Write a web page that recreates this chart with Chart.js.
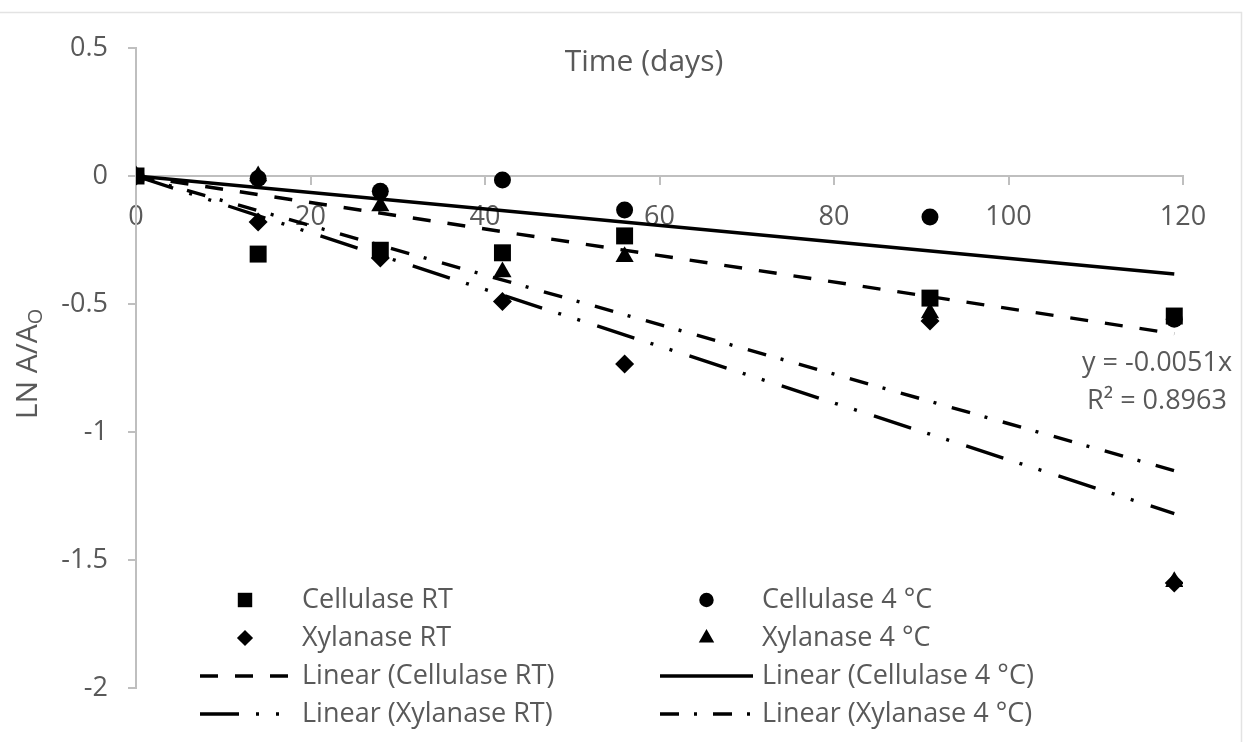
<!DOCTYPE html>
<html>
<head>
<meta charset="utf-8">
<script src="https://cdn.jsdelivr.net/npm/chart.js@4.4.1/dist/chart.umd.min.js"></script>
<style>
  html, body { margin: 0; padding: 0; background: #fff; }
  #wrap { width: 1245px; height: 742px; }
</style>
</head>
<body>
<div id="wrap"><canvas id="grafica" width="1245" height="742"></canvas></div>
<script>
// datos
var dias = [0, 14, 28, 42, 56, 91, 119];
var celulasaRT = [0, -0.305, -0.29, -0.30, -0.234, -0.477, -0.547];
var celulasa4C = [0, -0.01, -0.06, -0.016, -0.133, -0.16, -0.56];
var xilanasaRT = [0, -0.18, -0.32, -0.49, -0.734, -0.566, -1.59];
var xilanasa4C = [0, 0, -0.117, -0.375, -0.315, -0.535, -1.585];

var nombres = ["Cellulase RT", "Cellulase 4 °C", "Xylanase RT", "Xylanase 4 °C"];
var yTicks = [-2, -1.5, -1, -0.5, 0, 0.5];
var yTickLabels = ["-2", "-1.5", "-1", "-0.5", "0", "0.5"];
var xTicks = [0, 20, 40, 60, 80, 100, 120];
var xTickLabels = ["0", "20", "40", "60", "80", "100", "120"];
var tituloX = "Time (days)";
var ecuacion = ["y = -0.0051x", "R\u00B2 = 0.8963"];

var gris = "#595959";
var grisEje = "#bfbfbf";
var fuente = '"Open Sans", sans-serif';

function puntos(valores){
    var arr = [];
    for (var i = 0; i < dias.length; i++) {
        arr.push({x: dias[i], y: valores[i]});
    }
    return arr;
}

// tendencia lineal con intercepto en 0 (como en Excel)
function tendencia(valores){
    var sxy = 0, sxx = 0;
    for (var i = 0; i < dias.length; i++) {
        sxy += dias[i] * valores[i];
        sxx += dias[i] * dias[i];
    }
    var m = sxy / sxx;
    var xmax = dias[dias.length - 1];
    return [{x: 0, y: 0}, {x: xmax, y: m * xmax}];
}

var series = [celulasaRT, celulasa4C, xilanasaRT, xilanasa4C];
var estilos = ["rect", "circle", "rectRot", "triangle"];
var radios = [12, 8.5, 9.5, 10.5];
var guiones = [[18, 17], [], [39, 17, 3, 17, 3, 18], [19, 15, 3, 16]];

var datasets = [];
for (var i = 0; i < 4; i++) {
    datasets.push({
        label: nombres[i],
        data: puntos(series[i]),
        showLine: false,
        pointStyle: estilos[i],
        pointRadius: radios[i],
        pointBackgroundColor: "#000",
        pointBorderWidth: 0,
        backgroundColor: "#000",
        borderColor: "#000"
    });
}
for (var j = 0; j < 4; j++) {
    datasets.push({
        type: "line",
        label: "Linear (" + nombres[j] + ")",
        data: tendencia(series[j]),
        borderColor: "#000",
        borderWidth: 3.4,
        borderDash: guiones[j],
        pointRadius: 0,
        fill: false
    });
}

// leyenda, titulos y ecuacion dibujados a mano
var extras = {
    id: "extras",
    afterDraw: function(chart){
        var ctx = chart.ctx;
        ctx.save();

        // marco tenue de la figura original
        ctx.strokeStyle = "#e3e3e3";
        ctx.lineWidth = 1.5;
        ctx.beginPath();
        ctx.moveTo(0, 12.5); ctx.lineTo(1241.5, 12.5); ctx.lineTo(1241.5, 742);
        ctx.stroke();

        ctx.fillStyle = gris;
        ctx.textBaseline = "middle";
        ctx.textAlign = "center";
        ctx.font = "30px " + fuente;
        ctx.fillText(tituloX, 644, 62);

        ctx.font = "27px " + fuente;
        ctx.fillText(ecuacion[0], 1157, 363);
        ctx.fillText(ecuacion[1], 1157, 401);

        // titulo eje y con subindice
        ctx.save();
        ctx.translate(28, 364);
        ctx.rotate(-Math.PI / 2);
        ctx.font = "30px " + fuente;
        var t1 = "LN A/A";
        var w1 = ctx.measureText(t1).width;
        ctx.font = "20px " + fuente;
        var w2 = ctx.measureText("O").width;
        var x0 = -(w1 + w2) / 2;
        ctx.textAlign = "left";
        ctx.font = "30px " + fuente;
        ctx.fillText(t1, x0, 0);
        ctx.font = "20px " + fuente;
        ctx.fillText("O", x0 + w1, 8);
        ctx.restore();

        // leyenda en dos columnas
        var filas = [600, 638, 676, 714];
        var cols = [{l1: 200, l2: 290, tx: 302}, {l1: 660, l2: 753, tx: 762}];
        var ds = chart.data.datasets;
        ctx.font = "27px " + fuente;
        ctx.textAlign = "left";
        for (var k = 0; k < ds.length; k++) {
            var c = cols[k % 2];
            var y = filas[Math.floor(k / 2)];
            var cx = (c.l1 + c.l2) / 2;
            if (ds[k].showLine === false) {
                ctx.fillStyle = "#000";
                Chart.helpers.drawPoint(ctx, {
                    pointStyle: ds[k].pointStyle,
                    radius: ds[k].pointRadius * 0.85,
                    rotation: 0,
                    borderWidth: 0
                }, cx, y);
            } else {
                ctx.strokeStyle = "#000";
                ctx.lineWidth = 3.4;
                ctx.setLineDash(ds[k].borderDash || []);
                ctx.beginPath();
                ctx.moveTo(c.l1, y);
                ctx.lineTo(c.l2, y);
                ctx.stroke();
                ctx.setLineDash([]);
            }
            ctx.fillStyle = gris;
            ctx.fillText(ds[k].label, c.tx, y);
        }
        ctx.restore();
    }
};

new Chart("grafica", {
    type: "scatter",
    data: { datasets: datasets },
    options: {
        responsive: false,
        animation: false,
        layout: { padding: { left: 0, top: 48, right: 62, bottom: 54 } },
        plugins: {
            legend: { display: false },
            tooltip: { enabled: false },
            title: { display: false }
        },
        scales: {
            x: {
                type: "linear",
                min: 0,
                max: 120,
                position: { y: 0 },
                afterBuildTicks: function(scale){
                    scale.ticks = xTicks.map(function(v){ return {value: v}; });
                },
                grid: { drawOnChartArea: false, drawTicks: true, tickLength: 8, color: grisEje, lineWidth: 2 },
                border: { color: grisEje, width: 2 },
                ticks: {
                    color: gris, font: { family: fuente, size: 27 }, padding: 17, maxRotation: 0,
                    callback: function(v){ var n = xTicks.indexOf(v); return n >= 0 ? xTickLabels[n] : ""; }
                }
            },
            y: {
                type: "linear",
                min: -2,
                max: 0.5,
                afterBuildTicks: function(scale){
                    scale.ticks = yTicks.map(function(v){ return {value: v}; });
                },
                afterFit: function(scale){ scale.width = 136; },
                grid: { drawOnChartArea: false, drawTicks: true, tickLength: 8, color: grisEje, lineWidth: 2 },
                border: { color: grisEje, width: 2 },
                ticks: {
                    color: gris, font: { family: fuente, size: 27 }, padding: 20,
                    callback: function(v){ var n = yTicks.indexOf(v); return n >= 0 ? yTickLabels[n] : ""; }
                }
            }
        }
    },
    plugins: [extras]
});
</script>
</body>
</html>
